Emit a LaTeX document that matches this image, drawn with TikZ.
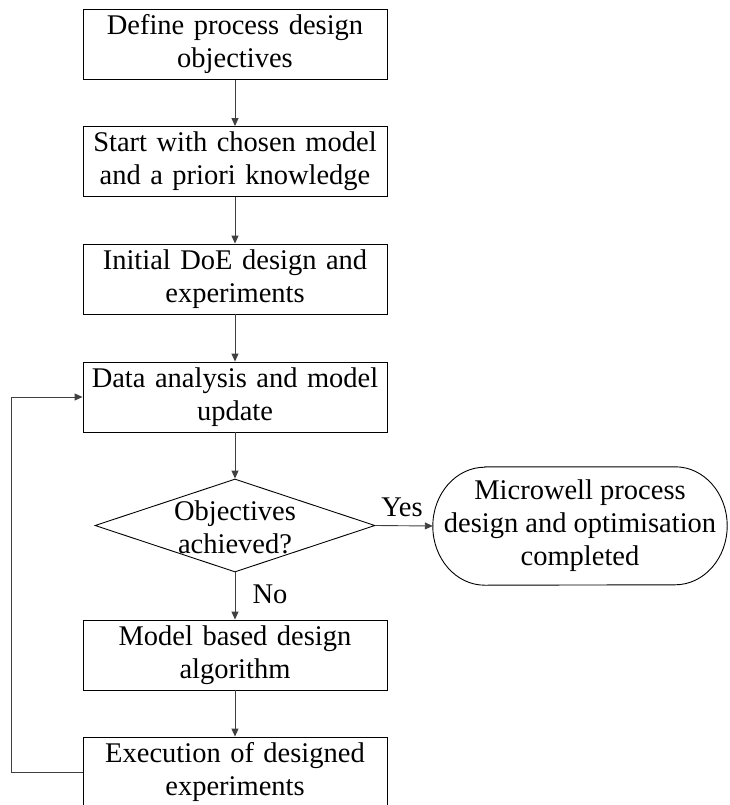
\documentclass[tikz,border=0pt]{standalone}
\usepackage{fontspec}
\setmainfont{Liberation Serif}
\usetikzlibrary{arrows.meta,shapes.geometric,calc}

\begin{document}
\begin{tikzpicture}[x=1pt,y=-1pt,
  txt/.style={font=\fontsize{28.5}{33}\selectfont, align=center},
  stepbox/.style={txt, draw, line width=0.9pt, minimum width=304pt,
    minimum height=70pt, inner sep=0pt, text width=300pt},
  flow/.style={draw=black!75, line width=0.9pt,
    -{Triangle[length=8pt,width=7pt]}},
  lbl/.style={txt, inner sep=0pt}
]
\useasboundingbox (0,0) rectangle (730,805);
\clip (0,0) rectangle (730,805);

% main column of process steps
\node[stepbox] (s1) at (235,44.5) {Define process design\\objectives};
\node[stepbox] (s2) at (235,161.5) {Start with chosen model\\and a priori knowledge};
\node[stepbox] (s3) at (235,279) {Initial DoE design and\\experiments};
\node[stepbox] (s4) at (235,397) {Data analysis and model\\update};

% decision
\node[draw, line width=0.9pt, shape=diamond, minimum width=280pt,
      minimum height=93pt, inner sep=0pt, aspect=3] (dec) at (235,525.5) {};
\node[lbl] (dectext) at (235,527) {Objectives\\achieved?};

\node[stepbox] (s5) at (235,655) {Model based design\\algorithm};
\node[stepbox] (s6) at (235,772) {Execution of designed\\experiments};

% terminal with elliptical ends
\node[lbl, minimum width=294pt, minimum height=118pt] (done) at (580,526)
  {Microwell process\\design and optimisation\\completed};
\draw[line width=0.9pt]
  ([xshift=52pt]done.north west) -- ([xshift=-52pt]done.north east)
  arc[start angle=90, end angle=-90, x radius=52pt, y radius=59pt]
  -- ([xshift=52pt]done.south west)
  arc[start angle=270, end angle=90, x radius=52pt, y radius=59pt]
  -- cycle;

% connectors
\draw[flow] (s1) -- (s2);
\draw[flow] (s2) -- (s3);
\draw[flow] (s3) -- (s4);
\draw[flow] (s4.south) -- (dec.north);
\draw[flow] (dec.east) -- (done.west);
\draw[flow] (dec.south) -- (s5.north);
\draw[flow] (s5) -- (s6);
\draw[flow] (s6.west) -- ++(-71,0) |- (s4.west);

% branch labels
\node[lbl] (yes) at (402,507) {Yes};
\node[lbl] (no) at (270,594) {No};
\end{tikzpicture}
\end{document}
